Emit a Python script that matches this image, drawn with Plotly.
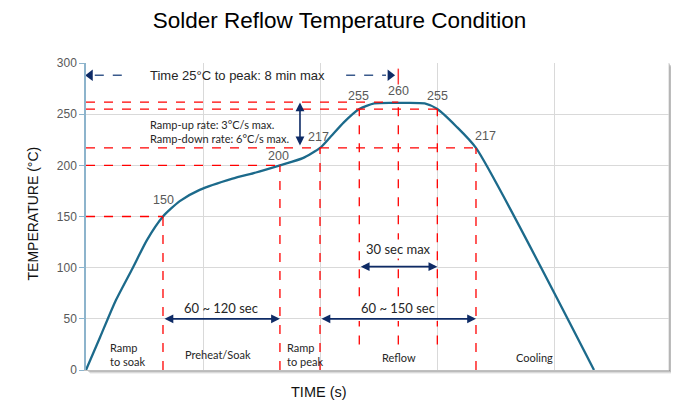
import plotly.graph_objects as go

# ---- data ----
time_s = [0, 12, 25, 40, 52, 65.7, 80, 97, 125, 145, 165.5, 185, 199.7, 208, 220, 233.2, 246, 266.5, 289, 299.8, 316, 332.8, 433.5]
temp_c = [0, 32, 67, 100, 127, 150, 165, 176, 187, 193, 200, 207, 217, 227, 242, 255, 260.5, 261, 260.5, 255, 238, 217, 0]

key_times = [65.7, 165.5, 199.7, 233.2, 266.5, 299.8, 332.8]
key_temps = [150, 200, 217, 255, 260, 255, 217]
key_labels = ["150", "200", "217", "255", "260", "255", "217"]

phase_names = ["Ramp<br>to soak", "Preheat/Soak", "Ramp<br>to peak", "Reflow", "Cooling"]
y_ticks = [0, 50, 100, 150, 200, 250, 300]

CURVE = "#1c6a8b"
NAVY = "#0e2b66"
RED = "#ff0000"
FONT = "Liberation Sans"
LFONT = "Lato"

# figure geometry (page body has 8px margin)
W, H = 663, 393
ML, MT, MR, MB = 78, 55, 2, 31
PW, PH = W - ML - MR, H - MT - MB

fig = go.Figure()

shapes = []
for off, op in [(4, 0.08), (3, 0.14), (2, 0.22), (1, 0.3)]:
    shapes.append(dict(type="rect", xref="paper", yref="paper", layer="below",
                       x0=off / PW, x1=1 + off / PW, y0=-off / PH, y1=1 - off / PH,
                       line=dict(width=0), fillcolor=f"rgba(80,80,80,{op})"))
shapes.append(dict(type="rect", xref="paper", yref="paper", layer="below",
                   x0=0, x1=1, y0=0, y1=1, line=dict(width=0), fillcolor="white"))
shapes.append(dict(type="line", xref="paper", yref="paper", layer="below",
                   x0=1, x1=1, y0=0, y1=1, line=dict(color="#d0d0d0", width=1)))

def hline(y, x0, x1):
    shapes.append(dict(type="line", xref="x", yref="y", x0=x0, x1=x1, y0=y, y1=y,
                       line=dict(color=RED, width=1.3, dash="dash")))
def vline(x, y0, y1):
    shapes.append(dict(type="line", xref="x", yref="y", x0=x, x1=x, y0=y0, y1=y1,
                       line=dict(color=RED, width=1.3, dash="dash")))

hline(150, 0, 65.7)
hline(200, 0, 165.5)
hline(217, 0, 332.8)
hline(255, 0, 299.8)
hline(261.7, 0, 266.5)
vline(65.7, 0, 150)
vline(165.5, 0, 200)
vline(199.7, 0, 217)
vline(332.8, 0, 217)
for xv, ytop in [(233.2, 255), (266.5, 261.7), (299.8, 255)]:
    vline(xv, 72, ytop)
    vline(xv, 25, 48)
shapes.append(dict(type="line", xref="x", yref="y", x0=266.5, x1=266.5, y0=279, y1=294.5,
                   line=dict(color="#ff3b3b", width=1.5)))

shapes.append(dict(type="line", xref="x", yref="y", x0=7.5, x1=35, y0=288, y1=288,
                   line=dict(color="#3a5a8c", width=1.5, dash="dash")))
shapes.append(dict(type="line", xref="x", yref="y", x0=222, x1=256, y0=288, y1=288,
                   line=dict(color="#3a5a8c", width=1.5, dash="dash")))

fig.add_trace(go.Scatter(x=time_s, y=temp_c, mode="lines",
                         line=dict(color=CURVE, width=2.3, shape="spline", smoothing=0.6),
                         hoverinfo="skip", showlegend=False))
fig.add_trace(go.Scatter(x=[3.6, 259.5], y=[288, 288], mode="markers",
                         marker=dict(symbol=["triangle-left", "triangle-right"], size=10, color=NAVY),
                         hoverinfo="skip", showlegend=False))

ann = []
offs = [(1, 17), (-1, 9), (-2, 11), (-1, 13), (0, 13), (0, 13), (10, 12)]
for (xv, yv, lab), (dx, dy) in zip(zip(key_times, key_temps, key_labels), offs):
    ann.append(dict(x=xv, y=yv, text=lab, showarrow=False, xshift=dx, yshift=dy,
                    font=dict(family=FONT, size=12.5, color="#595959")))

def darrow(x0, y0, x1, y1):
    ann.append(dict(x=x1, y=y1, ax=x0, ay=y0, xref="x", yref="y", axref="x", ayref="y",
                    text="", showarrow=True, arrowhead=2, arrowside="end+start",
                    arrowsize=1.1, arrowwidth=1.6, arrowcolor=NAVY))

darrow(182.6, 218, 182.6, 261.5)
darrow(65.7, 50, 165.5, 50)
darrow(199.7, 50, 332.8, 50)
darrow(233.2, 101, 299.8, 101)

ann.append(dict(x=115.3, y=61, text="60 ~ 120 sec", showarrow=False,
                font=dict(family=LFONT, size=13, color="#262626")))
ann.append(dict(x=266.2, y=61, text="60 ~ 150 sec", showarrow=False, bgcolor="white",
                font=dict(family=LFONT, size=13, color="#262626")))
ann.append(dict(x=266.5, y=118.6, text="30 sec max", showarrow=False, bgcolor="white",
                font=dict(family=LFONT, size=13, color="#262626")))
ann.append(dict(x=52.5, y=288, text="Time 25°C to peak: 8 min max", showarrow=False, xanchor="left",
                font=dict(family=FONT, size=13, color="#262626")))
ann.append(dict(x=52.5, y=233, text="Ramp-up rate: 3°C/s max.<br>Ramp-down rate: 6°C/s max.",
                showarrow=False, xanchor="left", align="left",
                font=dict(family=LFONT, size=11, color="#262626")))

phase_pos = [(18.5, "left"), (113, "center"), (169.5, "left"), (267, "center"), (383, "center")]
phase_y = [15, 15, 15, 12, 12]
for name, (xv, anc), yv in zip(phase_names, phase_pos, phase_y):
    ann.append(dict(x=xv, y=yv, text=name, showarrow=False, xanchor=anc, align="left",
                    font=dict(family=LFONT, size=11, color="#262626")))

ann.append(dict(xref="paper", yref="paper", x=(311 - ML) / PW, y=(MT + PH - 384) / PH,
                yanchor="middle", text="TIME (s)", showarrow=False,
                font=dict(family=FONT, size=14.5, color="#111111")))
ann.append(dict(xref="paper", yref="paper", x=(14 - ML) / PW, y=(MT + PH - 205.5) / PH,
                textangle=-90, text="TEMPERATURE (°C)", showarrow=False,
                font=dict(family=FONT, size=14, color="#111111")))

fig.update_layout(
    width=W, height=H, autosize=False,
    margin=dict(l=ML, r=MR, t=MT, b=MB),
    paper_bgcolor="white", plot_bgcolor="rgba(0,0,0,0)",
    title=dict(text="Solder Reflow Temperature Condition", x=0.5, xanchor="center",
               xref="container", yref="container", y=1 - 12 / H, yanchor="middle",
               font=dict(family=FONT, size=22.5, color="#000000")),
    shapes=shapes, annotations=ann, showlegend=False,
    xaxis=dict(range=[0, 497.5], dtick=100, showticklabels=False, showgrid=True,
               gridcolor="#d9d9d9", gridwidth=1, zeroline=False, showline=True,
               linecolor="#bfbfbf", linewidth=1, fixedrange=True),
    yaxis=dict(range=[0, 300], tickvals=y_ticks, showgrid=True, gridcolor="#d9d9d9",
               zeroline=False, showline=True, linecolor="#8db4cc", linewidth=1.5,
               ticks="outside", ticklen=5, tickcolor="#8db4cc",
               tickfont=dict(family=FONT, size=12, color="#595959"), fixedrange=True),
)

fig.write_html("out.html")
